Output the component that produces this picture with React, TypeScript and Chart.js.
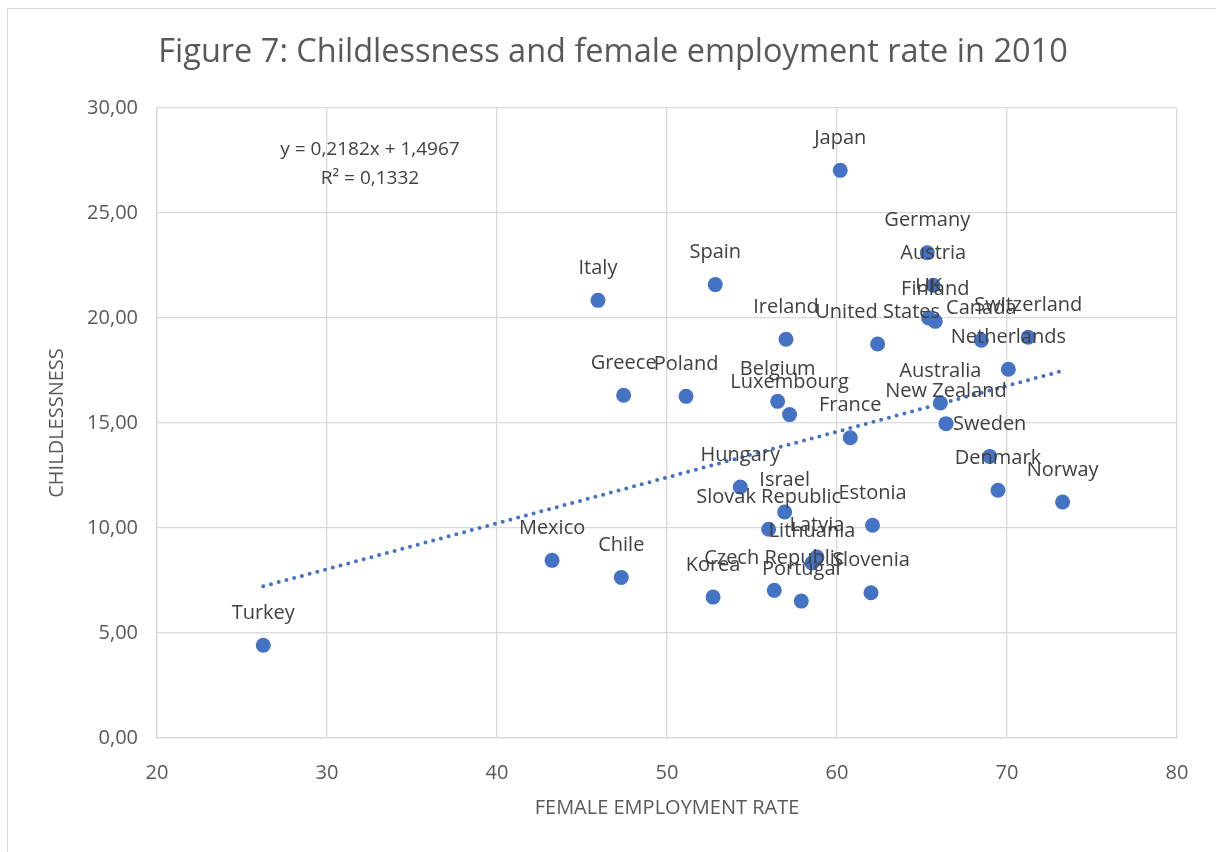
import React, { useEffect, useRef } from "react";
import { Chart, registerables } from "chart.js";

Chart.register(...registerables);

const TITLE = "Figure 7: Childlessness and female employment rate in 2010";
const X_TITLE = "FEMALE EMPLOYMENT RATE";
const Y_TITLE = "CHILDLESSNESS";

const countries = [
  "Turkey", "Mexico", "Chile", "Greece", "Poland", "Italy", "Spain", "Japan",
  "Germany", "Austria", "UK", "Finland", "Canada", "Switzerland", "Netherlands",
  "Australia", "New Zealand", "Sweden", "Denmark", "Norway", "United States",
  "Ireland", "France", "Belgium", "Luxembourg", "Hungary", "Israel",
  "Slovak Republic", "Estonia", "Latvia", "Lithuania", "Czech Republic",
  "Slovenia", "Korea", "Portugal",
];

const femaleEmployment = [
  26.25, 43.24, 47.31, 47.45, 51.12, 45.94, 52.84, 60.19,
  65.31, 65.66, 65.39, 65.78, 68.49, 71.25, 70.08,
  66.08, 66.41, 68.98, 69.47, 73.27, 62.39,
  57.0, 60.78, 56.51, 57.21, 54.31, 56.92,
  55.98, 62.09, 58.82, 58.53, 56.31,
  62.0, 52.71, 57.9,
];

const childlessness = [
  4.42, 8.46, 7.64, 16.32, 16.27, 20.84, 21.59, 27.03,
  23.11, 21.56, 20.0, 19.84, 18.94, 19.08, 17.56,
  15.95, 14.97, 13.41, 11.8, 11.24, 18.76,
  18.99, 14.3, 16.03, 15.4, 11.95, 10.76,
  9.94, 10.13, 8.62, 8.33, 7.03,
  6.92, 6.71, 6.52,
];

// Linear trend line as displayed on the chart
const trendSlope = 0.2182;
const trendIntercept = 1.4967;
const trendR2 = 0.1332;

const fmtComma = (v: number, d: number) => v.toFixed(d).replace(".", ",");

const FONT = "'Open Sans', 'DejaVu Sans', sans-serif";
const TEXT_GRAY = "#595959";
const LABEL_GRAY = "#404040";
const BLUE = "#4472C4";
const GRID = "#d9d9d9";

export default function App() {
  const canvasRef = useRef<HTMLCanvasElement | null>(null);

  useEffect(() => {
    const canvas = canvasRef.current;
    if (!canvas) return;

    const points = femaleEmployment.map((x, i) => ({ x, y: childlessness[i] }));
    const xMin = Math.min(...femaleEmployment);
    const xMax = Math.max(...femaleEmployment);
    const trend = [
      { x: xMin, y: trendSlope * xMin + trendIntercept },
      { x: xMax, y: trendSlope * xMax + trendIntercept },
    ];

    const overlay = {
      id: "overlay",
      afterDatasetsDraw(chart: any) {
        const ctx = chart.ctx as CanvasRenderingContext2D;
        const xs = chart.scales.x;
        const ys = chart.scales.y;
        ctx.save();
        // data labels
        ctx.font = `20px ${FONT}`;
        ctx.fillStyle = LABEL_GRAY;
        ctx.textAlign = "center";
        ctx.textBaseline = "middle";
        countries.forEach((name, i) => {
          const px = xs.getPixelForValue(femaleEmployment[i]);
          const py = ys.getPixelForValue(childlessness[i]);
          ctx.fillText(name, px, py - 32);
        });
        // equation
        ctx.font = `19px ${FONT}`;
        ctx.fillText(
          `y = ${fmtComma(trendSlope, 4)}x + ${fmtComma(trendIntercept, 4)}`,
          370,
          150
        );
        ctx.fillText(`R² = ${fmtComma(trendR2, 4)}`, 370, 179);
        // title
        ctx.font = `32.5px ${FONT}`;
        ctx.fillStyle = TEXT_GRAY;
        ctx.fillText(TITLE, 613, 53);
        ctx.restore();
      },
    };

    const chart = new Chart(canvas, {
      type: "scatter",
      data: {
        datasets: [
          {
            type: "scatter",
            label: "Childlessness",
            data: points,
            backgroundColor: BLUE,
            borderWidth: 0,
            pointRadius: 7.5,
            pointHoverRadius: 7.5,
          },
          {
            type: "line",
            label: "Linear trend",
            data: trend,
            borderColor: BLUE,
            borderWidth: 4,
            borderDash: [0, 8],
            borderCapStyle: "round",
            pointRadius: 0,
            fill: false,
          } as any,
        ],
      },
      options: {
        responsive: false,
        animation: false,
        devicePixelRatio: 1,
        events: [],
        layout: { padding: { top: 108, right: 39, left: 0, bottom: 0 } },
        plugins: {
          legend: { display: false },
          tooltip: { enabled: false },
          title: { display: false },
        },
        scales: {
          x: {
            type: "linear",
            min: 20,
            max: 80,
            afterFit: (s: any) => {
              s.height = 114;
            },
            ticks: {
              stepSize: 10,
              color: TEXT_GRAY,
              font: { family: FONT, size: 20 },
              padding: 23,
            },
            grid: { color: GRID, lineWidth: 1.3, drawTicks: false },
            border: { display: true, color: GRID, width: 1.3 },
            title: {
              display: true,
              text: X_TITLE,
              color: TEXT_GRAY,
              font: { family: FONT, size: 20 },
              padding: { top: 0, bottom: 32 },
            },
          },
          y: {
            type: "linear",
            min: 0,
            max: 30,
            afterFit: (s: any) => {
              s.width = 157;
            },
            ticks: {
              stepSize: 5,
              color: TEXT_GRAY,
              font: { family: FONT, size: 20 },
              padding: 19,
              callback: (v: any) => fmtComma(Number(v), 2),
            },
            grid: { color: GRID, lineWidth: 1.3, drawTicks: false },
            border: { display: true, color: GRID, width: 1.3 },
            title: {
              display: true,
              text: Y_TITLE,
              color: TEXT_GRAY,
              font: { family: FONT, size: 20 },
              padding: { top: 45, bottom: 0 },
            },
          },
        },
      },
      plugins: [overlay],
    } as any);

    return () => chart.destroy();
  }, []);

  return (
    <div
      style={{
        position: "fixed",
        left: 0,
        top: 0,
        width: 1216,
        height: 852,
        background: "#ffffff",
        overflow: "hidden",
      }}
    >
      <div
        style={{
          position: "absolute",
          left: 7,
          top: 8,
          width: 1230,
          height: 870,
          border: `1px solid ${GRID}`,
          boxSizing: "border-box",
        }}
      />
      <canvas
        ref={canvasRef}
        width={1216}
        height={852}
        style={{ position: "absolute", left: 0, top: 0, width: 1216, height: 852 }}
      />
    </div>
  );
}
